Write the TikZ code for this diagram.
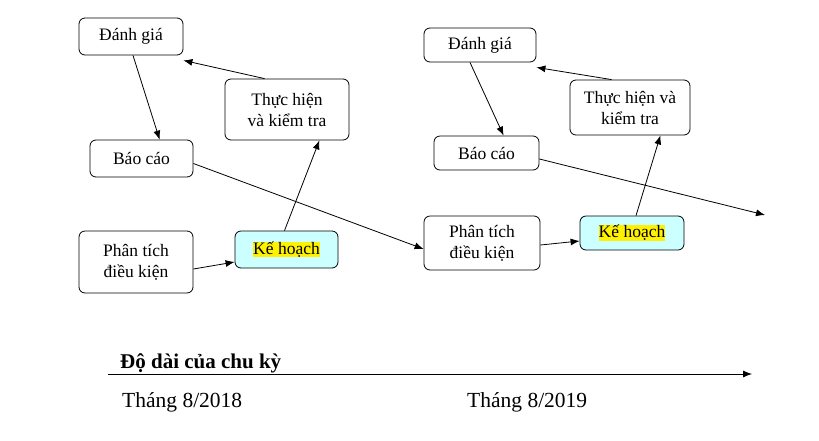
\documentclass[tikz,border=0pt]{standalone}
\usepackage{fontspec}
\usetikzlibrary{arrows.meta}
\setmainfont{Liberation Serif}
\begin{document}
\begin{tikzpicture}[x=1pt,y=-1pt,
  bx/.style={draw,line width=0.8pt,rounded corners=6pt,align=center,font=\fontsize{17.5}{21}\selectfont,inner sep=0pt,fill=white},
  ar/.style={-{Latex[length=9pt,width=7pt]},line width=0.8pt,black},
  hl/.style={bx,fill={rgb,255:red,204;green,255;blue,255}}]
\useasboundingbox (0,0) rectangle (819,440);
\setlength{\fboxsep}{0pt}
\def\B#1#2#3#4#5#6{\node[#6,minimum width=#3-#1,minimum height=#4-#2] (#5) at ({(#1+#3)/2},{(#2+#4)/2})}
\B{79}{18}{183}{55}{dg}{bx} {Đánh giá};
\B{225}{79}{349}{140}{th}{bx} {Thực hiện\\và kiểm tra};
\B{90}{140}{193}{177}{bc}{bx} {Báo cáo};
\B{79}{231}{193}{293}{pt}{bx} {Phân tích\\điều kiện};
\B{235}{231}{338}{268}{kh}{hl} {\colorbox{yellow}{Kế hoạch}};
\B{424}{28}{536}{62}{dg2}{bx} {Đánh giá};
\B{570}{80}{690}{135}{th2}{bx} {Thực hiện và\\kiểm tra};
\B{434}{136}{539}{170}{bc2}{bx} {Báo cáo};
\B{424}{216}{540}{270}{pt2}{bx} {Phân tích\\điều kiện};
\B{580}{216}{684}{250}{kh2}{hl} {\colorbox{yellow}{Kế hoạch}};
\coordinate (end) at (765,215);
\draw[ar] ([xshift=40]th.north west) -- ([yshift=-5]dg.south east);
\draw[ar] ([xshift=2]dg.south) -- ([xshift=70]bc.north west);
\draw[ar] ([yshift=-5]bc.east) -- ([yshift=-6]pt2.west);
\draw[ar] ([yshift=-7]pt.east) -- (kh.west |- {{0,262}});
\draw[ar] ([xshift=-2]kh.north) -- ([xshift=-30]th.south east);
\draw[ar] ([yshift=-6]bc2.east) -- (end);
\draw[ar] ([xshift=42]th2.north west) -- ([yshift=-5]dg2.south east);
\draw[ar] ([xshift=-10]dg2.south) -- ([xshift=70]bc2.north west);
\draw[ar] ([yshift=-2]pt2.east) -- (kh2.west |- {{0,241}});
\draw[ar] ([xshift=4]kh2.north) -- ([xshift=-30]th2.south east);
\node[font=\fontsize{21}{24}\selectfont\bfseries,anchor=west,inner sep=0pt] (len) at (120,363) {Độ dài của chu kỳ};
\coordinate (t0) at (108,374);
\coordinate (t1) at (752,374);
\draw[ar] (t0) -- (t1);
\node[font=\fontsize{21.5}{24}\selectfont,anchor=west,inner sep=0pt] (m1) at (122,402) {Tháng 8/2018};
\node[font=\fontsize{21.5}{24}\selectfont,anchor=west,inner sep=0pt] (m2) at (467,402) {Tháng 8/2019};
\end{tikzpicture}
\end{document}
